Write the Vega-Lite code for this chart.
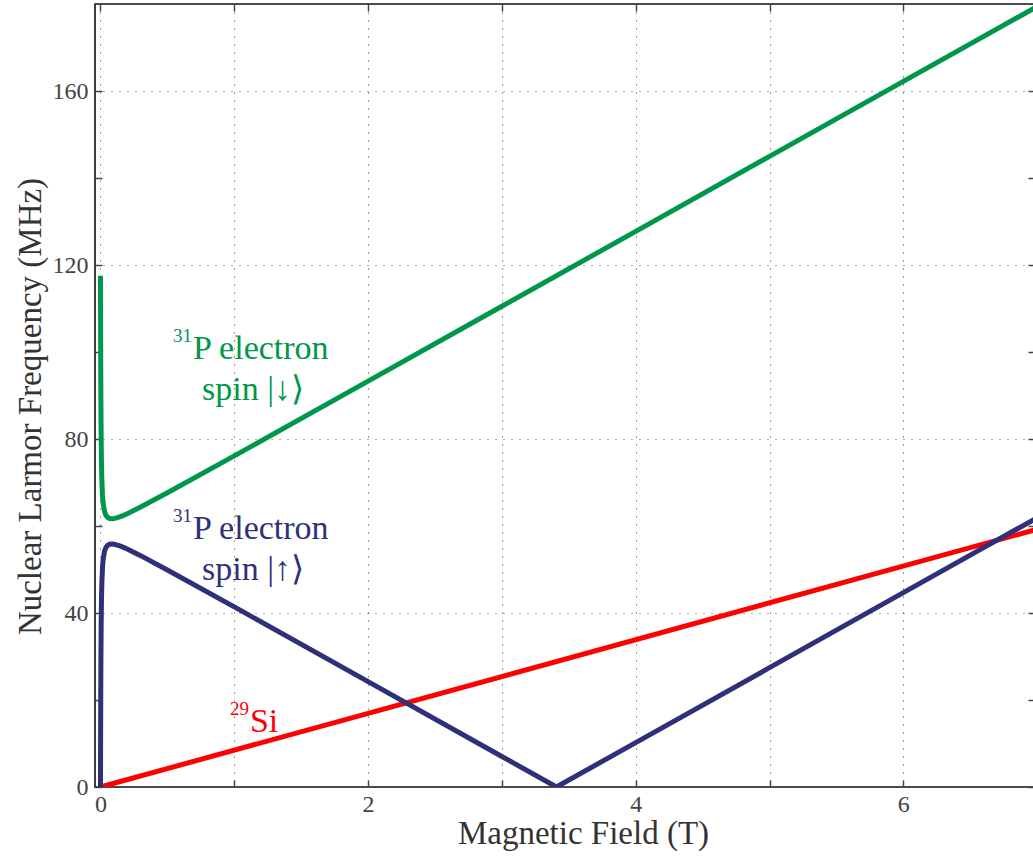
{
  "$schema": "https://vega.github.io/schema/vega-lite/v6.json",
  "width": 940,
  "height": 783,
  "autosize": "none",
  "padding": {"left": 95, "top": 4, "right": 0, "bottom": 70},
  "background": "white",
  "config": {
    "view": {"stroke": "#111", "strokeWidth": 1.6},
    "font": "Liberation Serif",
    "axis": {
      "domain": false,
      "tickSize": -7,
      "tickColor": "#444",
      "tickWidth": 1.5,
      "labelFont": "Liberation Serif",
      "labelFontSize": 24,
      "labelColor": "#444",
      "labelFlush": false,
      "labelOverlap": false,
      "titleFont": "Liberation Serif",
      "titleFontWeight": "normal",
      "titleColor": "#333",
      "titleFontSize": 33,
      "gridColor": "#000",
      "gridDash": [1, 7],
      "gridWidth": 1,
      "gridOpacity": 0.8
    }
  },
  "datasets": {
    "curves": [
      {"B": 0, "f": 0, "s": "Si"},
      {"B": 7, "f": 59.26, "s": "Si"},
      {"B": 0, "f": 117.53, "s": "down"},
      {"B": 0.0005, "f": 110.96, "s": "down"},
      {"B": 0.001, "f": 105.2, "s": "down"},
      {"B": 0.002, "f": 95.9, "s": "down"},
      {"B": 0.003, "f": 89.06, "s": "down"},
      {"B": 0.005, "f": 80.26, "s": "down"},
      {"B": 0.0075, "f": 74.22, "s": "down"},
      {"B": 0.01, "f": 70.78, "s": "down"},
      {"B": 0.015, "f": 67.09, "s": "down"},
      {"B": 0.02, "f": 65.21, "s": "down"},
      {"B": 0.03, "f": 63.38, "s": "down"},
      {"B": 0.04, "f": 62.53, "s": "down"},
      {"B": 0.05, "f": 62.09, "s": "down"},
      {"B": 0.06, "f": 61.85, "s": "down"},
      {"B": 0.07, "f": 61.73, "s": "down"},
      {"B": 0.08, "f": 61.69, "s": "down"},
      {"B": 0.09, "f": 61.69, "s": "down"},
      {"B": 0.1, "f": 61.72, "s": "down"},
      {"B": 0.12, "f": 61.86, "s": "down"},
      {"B": 0.15, "f": 62.17, "s": "down"},
      {"B": 0.2, "f": 62.83, "s": "down"},
      {"B": 0.3, "f": 64.35, "s": "down"},
      {"B": 0.5, "f": 67.63, "s": "down"},
      {"B": 1, "f": 76.12, "s": "down"},
      {"B": 2, "f": 93.3, "s": "down"},
      {"B": 3, "f": 110.51, "s": "down"},
      {"B": 4, "f": 127.74, "s": "down"},
      {"B": 5, "f": 144.97, "s": "down"},
      {"B": 6, "f": 162.2, "s": "down"},
      {"B": 7, "f": 179.43, "s": "down"},
      {"B": 0, "f": 0, "s": "up"},
      {"B": 0.0005, "f": 6.57, "s": "up"},
      {"B": 0.001, "f": 12.33, "s": "up"},
      {"B": 0.002, "f": 21.63, "s": "up"},
      {"B": 0.003, "f": 28.47, "s": "up"},
      {"B": 0.005, "f": 37.27, "s": "up"},
      {"B": 0.0075, "f": 43.31, "s": "up"},
      {"B": 0.01, "f": 46.75, "s": "up"},
      {"B": 0.015, "f": 50.44, "s": "up"},
      {"B": 0.02, "f": 52.32, "s": "up"},
      {"B": 0.03, "f": 54.16, "s": "up"},
      {"B": 0.04, "f": 55.0, "s": "up"},
      {"B": 0.05, "f": 55.44, "s": "up"},
      {"B": 0.06, "f": 55.68, "s": "up"},
      {"B": 0.07, "f": 55.8, "s": "up"},
      {"B": 0.08, "f": 55.85, "s": "up"},
      {"B": 0.09, "f": 55.84, "s": "up"},
      {"B": 0.1, "f": 55.81, "s": "up"},
      {"B": 0.12, "f": 55.67, "s": "up"},
      {"B": 0.15, "f": 55.36, "s": "up"},
      {"B": 0.2, "f": 54.7, "s": "up"},
      {"B": 0.3, "f": 53.18, "s": "up"},
      {"B": 0.5, "f": 49.9, "s": "up"},
      {"B": 1, "f": 41.41, "s": "up"},
      {"B": 2, "f": 24.23, "s": "up"},
      {"B": 3, "f": 7.02, "s": "up"},
      {"B": 3.4075, "f": 0, "s": "up"},
      {"B": 4, "f": 10.21, "s": "up"},
      {"B": 5, "f": 27.43, "s": "up"},
      {"B": 6, "f": 44.67, "s": "up"},
      {"B": 7, "f": 61.9, "s": "up"}
    ],
    "labels": [
      {"x": 0.542, "y": 102.3, "t": "31", "g": "down", "k": "sup"},
      {"x": 0.691, "y": 98.4, "t": "P electron", "g": "down", "k": "main"},
      {"x": 0.759, "y": 89.0, "t": "spin |↓⟩", "g": "down", "k": "main"},
      {"x": 0.542, "y": 60.9, "t": "31", "g": "up", "k": "sup"},
      {"x": 0.691, "y": 57.0, "t": "P electron", "g": "up", "k": "main"},
      {"x": 0.759, "y": 47.6, "t": "spin |↑⟩", "g": "up", "k": "main"},
      {"x": 0.968, "y": 16.6, "t": "29", "g": "Si", "k": "sup"},
      {"x": 1.117, "y": 12.6, "t": "Si", "g": "Si", "k": "main"}
    ]
  },
  "layer": [
    {
      "data": {"name": "curves"},
      "transform": [{"filter": "datum.s === 'Si'"}],
      "mark": {"type": "line", "color": "#ff0000", "strokeWidth": 5, "clip": true},
      "encoding": {
        "x": {
          "field": "B", "type": "quantitative",
          "scale": {"domain": [-0.041, 6.984], "nice": false, "zero": false},
          "axis": {
            "orient": "bottom",
            "values": [0, 1, 2, 3, 4, 5, 6],
            "labelExpr": "datum.value % 2 === 0 ? datum.label : ''",
            "labelPadding": 12,
            "grid": true,
            "title": "Magnetic Field (T)",
            "titleX": 488,
            "titleY": 56,
            "titleBaseline": "alphabetic"
          }
        },
        "y": {
          "field": "f", "type": "quantitative",
          "scale": {"domain": [0, 180], "nice": false, "zero": false},
          "axis": {
            "orient": "left",
            "values": [0, 20, 40, 60, 80, 100, 120, 140, 160],
            "labelExpr": "datum.value % 40 === 0 ? datum.label : ''",
            "labelPadding": 14,
            "grid": true,
            "gridOpacity": {"condition": {"test": "datum.value % 40 === 0 && datum.value > 0", "value": 0.8}, "value": 0},
            "title": "Nuclear Larmor Frequency (MHz)",
            "titleX": -55,
            "titleY": 402,
            "titleBaseline": "alphabetic"
          }
        }
      }
    },
    {
      "data": {"name": "curves"},
      "transform": [{"filter": "datum.s === 'down'"}],
      "mark": {"type": "line", "color": "#00964b", "strokeWidth": 5, "clip": true},
      "encoding": {
        "x": {"field": "B", "type": "quantitative", "axis": null},
        "y": {"field": "f", "type": "quantitative", "axis": null}
      }
    },
    {
      "data": {"name": "curves"},
      "transform": [{"filter": "datum.s === 'up'"}],
      "mark": {"type": "line", "color": "#2e3179", "strokeWidth": 5, "clip": true},
      "encoding": {
        "x": {"field": "B", "type": "quantitative", "axis": null},
        "y": {"field": "f", "type": "quantitative", "axis": null}
      }
    },
    {
      "data": {"name": "labels"},
      "mark": {"type": "text", "align": "left", "baseline": "alphabetic", "font": "Liberation Serif"},
      "encoding": {
        "x": {
          "field": "x", "type": "quantitative",
          "axis": {"orient": "top", "values": [0, 1, 2, 3, 4, 5, 6], "labels": false, "grid": false, "title": null}
        },
        "y": {
          "field": "y", "type": "quantitative",
          "axis": {"orient": "right", "values": [0, 20, 40, 60, 80, 100, 120, 140, 160], "labels": false, "grid": false, "title": null}
        },
        "text": {"field": "t"},
        "color": {"field": "g", "type": "nominal", "scale": {"domain": ["down", "up", "Si"], "range": ["#00964b", "#2e3179", "#ff0000"]}, "legend": null},
        "size": {"field": "k", "type": "nominal", "scale": {"domain": ["main", "sup"], "range": [34, 19]}, "legend": null}
      }
    }
  ],
  "resolve": {"axis": {"x": "independent", "y": "independent"}}
}
